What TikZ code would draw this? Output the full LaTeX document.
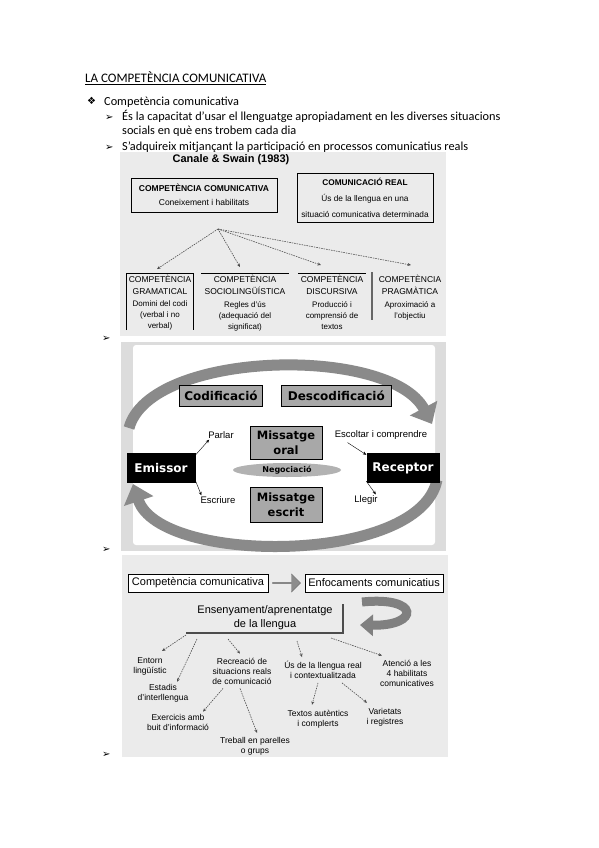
\documentclass[tikz,border=0pt]{standalone}
\usepackage{fontspec}
\setmainfont{Carlito}
\newfontfamily\arialfont{Liberation Sans}
\newfontfamily\boldsans{DejaVu Sans}
\newfontfamily\dingfont{DejaVu Sans}
\usetikzlibrary{positioning, arrows.meta, shapes.geometric, shapes.arrows, calc}
\definecolor{panel}{HTML}{EBEBEB}
\definecolor{framegray}{HTML}{DCDCDC}
\definecolor{boxgray}{HTML}{A8A8A8}
\definecolor{arcgray}{HTML}{8A8A8A}

\begin{document}
\begin{tikzpicture}[
        x=1pt, y=-1pt,
        body/.style={anchor=base west, inner sep=0pt, font=\fontsize{12.3}{14}\selectfont},
        mark_sym/.style={anchor=base west, inner sep=0pt, font=\dingfont\fontsize{10}{10}\selectfont},
        cs_box/.style={draw, thick, align=center, inner sep=0pt, font=\arialfont\fontsize{8.5}{14}\selectfont},
        col_head/.style={align=center, inner sep=0pt, font=\arialfont\fontsize{8.5}{12}\selectfont},
        col_text/.style={align=center, inner sep=0pt, font=\arialfont\fontsize{8}{11}\selectfont},
        dash_arrow/.style={draw=black!70, dash pattern=on 1.5pt off 1pt, semithick, -{Stealth[length=3.5pt, width=3pt]}},
        code_box/.style={draw, thick, fill=boxgray, inner sep=2pt, minimum height=21pt, font=\boldsans\bfseries\fontsize{12}{14}\selectfont},
        msg_box/.style={draw, thick, fill=boxgray, align=center, inner sep=1pt, minimum width=72pt, minimum height=33pt, font=\boldsans\bfseries\fontsize{11.5}{15}\selectfont},
        actor/.style={fill=black, text=white, inner sep=0pt, minimum height=30pt, font=\boldsans\bfseries\fontsize{12}{14}\selectfont},
        act_label/.style={inner sep=1pt, font=\arialfont\fontsize{9.5}{11}\selectfont},
        small_arrow/.style={draw, thin, -{Stealth[length=3.5pt, width=3pt]}},
        big_arc/.style={draw=arcgray, line width=11pt, -{Triangle[length=18pt, width=30pt]}},
        flow_box/.style={draw, semithick, fill=white, inner sep=2pt, minimum height=18pt, font=\arialfont\fontsize{11}{12}\selectfont},
        leaf/.style={align=center, inner sep=0pt, font=\arialfont\fontsize{8.5}{10}\selectfont}
    ]
    \useasboundingbox (0,0) rectangle (599,848);

    % Títol i text
    \node[body, font=\fontsize{13}{14}\selectfont] (title) at (85,83) {\underline{LA COMPETÈNCIA COMUNICATIVA}};
    \node[mark_sym] (m0) at (87,105) {❖};
    \node[body] (item0) at (104,106) {Competència comunicativa};
    \node[mark_sym] (m1) at (105,121) {➢};
    \node[body] (item1) at (122,121) {És la capacitat d’usar el llenguatge apropiadament en les diverses situacions};
    \node[body] (item1b) at (122,135) {socials en què ens trobem cada dia};
    \node[mark_sym] (m2) at (105,150) {➢};
    \node[body] (item2) at (122,150) {S’adquireix mitjançant la participació en processos comunicatius reals};

    % Canale & Swain
    \fill[panel] (120,152) rectangle (446,336);
    \node[font=\arialfont\bfseries\fontsize{11}{12}\selectfont, inner sep=0pt] (canale) at (231,160) {Canale \& Swain (1983)};
    \node[cs_box, minimum width=146pt, minimum height=34pt] (comp) at (204,195) {\textbf{COMPETÈNCIA COMUNICATIVA}\\Coneixement i habilitats};
    \node[cs_box, minimum width=136pt, minimum height=49pt, font=\arialfont\fontsize{8.3}{16}\selectfont] (real) at (365,197.5) {\textbf{COMUNICACIÓ REAL}\\Ús de la llengua en una\\situació comunicativa determinada};
    \coordinate (hub) at (218,229);

    \node[col_head] (gram) at (160,285) {COMPETÈNCIA\\GRAMATICAL};
    \node[col_text, below=6pt of gram] (gram_t) {Domini del codi\\(verbal i no\\verbal)};
    \node[col_head] (socio) at (245,285) {COMPETÈNCIA\\SOCIOLINGÜÍSTICA};
    \node[col_text, below=6pt of socio] (socio_t) {Regles d’ús\\(adequació del\\significat)};
    \node[col_head] (disc) at (332,285) {COMPETÈNCIA\\DISCURSIVA};
    \node[col_text, below=6pt of disc] (disc_t) {Producció i\\comprensió de\\textos};
    \node[col_head] (prag) at (410,285) {COMPETÈNCIA\\PRAGMÀTICA};
    \node[col_text, below=6pt of prag] (prag_t) {Aproximació a\\l’objectiu};

    \draw[thick] (126,330) -- (126,273) -- (193,273) -- (193,330);
    \draw[thick] (201,273) -- (289,273);
    \draw[thick] (298,273) -- (366,273);
    \draw[line width=1.5pt, black!60] (372,272) -- (372,320);

    \draw[dash_arrow] (hub) -- ($(gram.north)+(-3,-6)$);
    \draw[dash_arrow] (hub) -- ($(socio.north)+(-5,-8)$);
    \draw[dash_arrow] (hub) -- ($(disc.north)+(-11,-10)$);
    \draw[dash_arrow] (hub) -- ($(prag.north)+(1,-10)$);

    \node[mark_sym] (m3) at (102,341) {➢};

    % Emissor i receptor
    \fill[framegray] (121,342) rectangle (446,551);
    \fill[white, rounded corners=3pt] (133,345) rectangle (435,545);
    \draw[big_arc] (129,428) .. controls (150,350) and (390,345) .. (432,424);
    \draw[big_arc] (437,480) .. controls (420,565) and (160,565) .. (133,484);

    \node[code_box, minimum width=83pt] (cod) at (221,396) {Codificació};
    \node[code_box, minimum width=110pt, right=18pt of cod] (descod) {Descodificació};
    \node[msg_box] (oral) at (286,443) {Missatge\\oral};
    \node[ellipse, fill=black!30, minimum width=108pt, minimum height=14pt, inner sep=0pt, font=\boldsans\bfseries\fontsize{8}{10}\selectfont] (neg) at (287,470) {Negociació};
    \node[msg_box, minimum height=35pt] (escrit) at (286,505) {Missatge\\escrit};
    \node[actor, minimum width=69pt] (emissor) at (161,468) {Emissor};
    \node[actor, minimum width=73pt] (receptor) at (403,468) {Receptor};
    \node[act_label] (parlar) at (221,435) {Parlar};
    \node[act_label] (escoltar) at (381,435) {Escoltar i comprendre};
    \node[act_label] (escriure) at (218,500) {Escriure};
    \node[act_label] (llegir) at (366,500) {Llegir};

    \draw[small_arrow] ($(emissor.north east)+(0,2)$) -- ($(parlar.south west)+(2,0)$);
    \draw[small_arrow] ($(emissor.south east)+(0,-2)$) -- ($(escriure.north west)+(2,0)$);
    \draw[small_arrow] ($(escoltar.south west)+(14,2)$) -- ($(receptor.north west)+(0,2)$);
    \draw[small_arrow] ($(receptor.south west)+(0,-2)$) -- ($(llegir.north east)+(-3,0)$);

    \node[mark_sym] (m4) at (102,552) {➢};

    % Enfocaments comunicatius
    \fill[panel] (122,555) rectangle (448,757);
    \node[flow_box, minimum width=140pt] (cc) at (198,583) {Competència comunicativa};
    \node[single arrow, draw=black!55, fill=black!45, minimum height=28pt, minimum width=18pt, single arrow head extend=3pt, inner sep=0pt, right=4pt of cc] (flow_arrow) {};
    \node[flow_box, minimum width=138pt, right=4pt of flow_arrow] (enf) {Enfocaments comunicatius};
    \draw[line width=9pt, draw=black!50, -{Triangle[length=13pt, width=21pt]}] (362,602) .. controls (420,596) and (420,626) .. (360,625);

    \node[align=center, inner sep=1pt, font=\arialfont\fontsize{11}{14}\selectfont] (ens) at (265,618) {Ensenyament/aprenentatge\\de la llengua};
    \draw[line width=1.2pt, black!70] (186,633) -- (343,633) -- (343,604);
    \coordinate (e1) at (186,635);
    \coordinate (e2) at (197,639);
    \coordinate (e3) at (228,639);
    \coordinate (e4) at (297,641);
    \coordinate (e5) at (331,638);

    \node[leaf] (entorn) at (150,666) {Entorn\\lingüístic};
    \node[leaf] (estadis) at (163,693) {Estadis\\d’interllengua};
    \node[leaf] (recrea) at (242,671) {Recreació de\\situacions reals\\de comunicació};
    \node[leaf] (us) at (323,670) {Ús de la llengua real\\i contextualitzada};
    \node[leaf] (atencio) at (407,673) {Atenció a les\\4 habilitats\\comunicatives};
    \node[leaf] (exer) at (178,722) {Exercicis amb\\buit d’informació};
    \node[leaf] (treball) at (255,746) {Treball en parelles\\o grups};
    \node[leaf] (textos) at (318,719) {Textos autèntics\\i complerts};
    \node[leaf] (varietats) at (385,717) {Varietats\\i registres};

    \draw[dash_arrow] (e1) -- ($(entorn.north)+(12,-6)$);
    \draw[dash_arrow] (e2) -- ($(estadis.north)+(14,-2)$);
    \draw[dash_arrow] (e3) -- ($(recrea.north)+(-2,-4)$);
    \draw[dash_arrow] (e4) -- ($(us.north)+(-21,-4)$);
    \draw[dash_arrow] (e5) -- ($(atencio.north)+(-25,-4)$);
    \draw[dash_arrow] ($(recrea.south)+(-19,4)$) -- ($(exer.north)+(25,-2)$);
    \draw[dash_arrow] ($(recrea.south)+(-2,4)$) -- ($(treball.north)+(2,-4)$);
    \draw[dash_arrow] ($(us.south)+(-5,4)$) -- ($(textos.north)+(-6,-5)$);
    \draw[dash_arrow] ($(us.south)+(19,4)$) -- ($(varietats.north)+(-18,-5)$);

    \node[mark_sym] (m5) at (102,757) {➢};
\end{tikzpicture}
\end{document}
